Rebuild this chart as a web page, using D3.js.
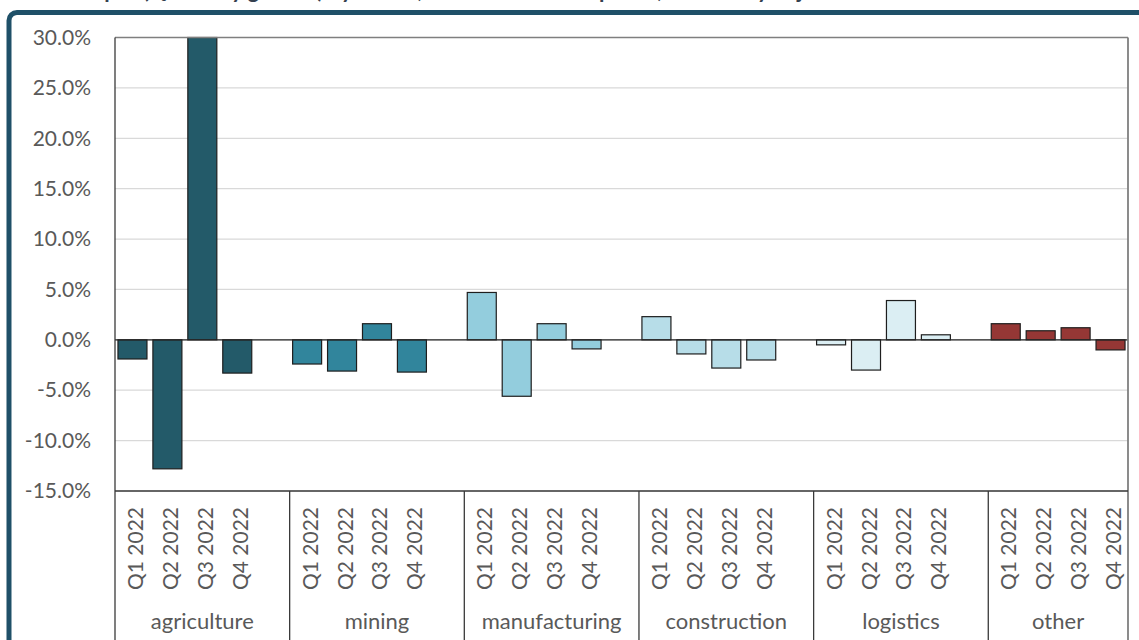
<!DOCTYPE html>
<html>
<head>
<meta charset="utf-8">
<script src="https://cdn.jsdelivr.net/npm/d3@7"></script>
<style>
	body { margin: 0; background: #fff; }
	svg text { font-family: Lato, "Open Sans", sans-serif; }
</style>
</head>
<body>
<div id="chart"></div>
<script>
// Quarterly growth by sector
///

const title = "Output (Quarterly growth) by sector, at constant 2015 prices, seasonally adjusted";
const sectors = ["agriculture", "mining", "manufacturing", "construction", "logistics", "other"];
const quarters = ["Q1 2022", "Q2 2022", "Q3 2022", "Q4 2022"];
const sectorColors = ["#235a69", "#31859c", "#93cddd", "#b7dde8", "#dbeef3", "#953735"];

const agriculture = [-1.9, -12.8, 30.0, -3.3];
const mining = [-2.4, -3.1, 1.6, -3.2];
const manufacturing = [4.7, -5.6, 1.6, -0.9];
const construction = [2.3, -1.4, -2.8, -2.0];
const logistics = [-0.5, -3.0, 3.9, 0.5];
const other = [1.6, 0.9, 1.2, -1.0];

const yTicks = [-15, -10, -5, 0, 5, 10, 15, 20, 25, 30];

const series = [agriculture, mining, manufacturing, construction, logistics, other];

const w = 1139, h = 640;
const plotLeft = 115, plotRight = 1128, plotTop = 37.5, plotBottom = 491;

// one slot per quarter, with an empty slot between sectors
let slots = [];
let bars = [];
sectors.forEach(function(s, i) {
	quarters.forEach(function(q, j) {
		slots.push(s + '|' + q);
		bars.push({ sector: s, quarter: q, key: s + '|' + q, value: series[i][j], color: sectorColors[i] });
	});
	if (i < sectors.length - 1)
		slots.push(s + '|blank');
});

const x = d3.scaleBand().domain(slots).range([plotLeft, plotRight]).paddingInner(0.17).paddingOuter(0.085);
const y = d3.scaleLinear().domain([-15, 30]).range([plotBottom, plotTop]);

let svg = d3.select("#chart").append('svg')
	.attr("width", w)
	.attr("height", h)
	.attr("viewBox", "0 0 " + w + " " + h);

svg.append('rect').attr('width', w).attr('height', h).attr('fill', '#fff');

// cut-off title
svg.append('text')
	.attr('x', 66).attr('y', -2.5)
	.attr('font-size', 22).attr('font-weight', 700)
	.attr('fill', '#34404f')
	.text(title);

// outer frame
svg.append('rect')
	.attr('x', 9).attr('y', 12.5)
	.attr('width', 1300).attr('height', 800)
	.attr('rx', 8)
	.attr('fill', 'none')
	.attr('stroke', '#1f5068')
	.attr('stroke-width', 5);

// gridlines
svg.append('g').selectAll('line')
	.data(yTicks)
	.enter()
	.append('line')
	.attr('x1', plotLeft).attr('x2', plotRight)
	.attr('y1', d => y(d)).attr('y2', d => y(d))
	.attr('stroke', '#d9d9d9')
	.attr('stroke-width', 1.2);

// y axis labels
let yAxis = svg.append('g')
	.attr('transform', 'translate(' + plotLeft + ',0)')
	.call(d3.axisLeft(y).tickValues(yTicks).tickSize(0).tickPadding(24).tickFormat(d => d.toFixed(1) + '%'));
yAxis.select('.domain').remove();
yAxis.selectAll('text')
	.attr('font-size', 21)
	.attr('font-family', 'Lato, sans-serif')
	.attr('fill', '#595959');

// bars
svg.append('g').selectAll('rect')
	.data(bars)
	.enter()
	.append('rect')
	.attr('x', d => x(d.key))
	.attr('width', x.bandwidth())
	.attr('y', d => y(Math.max(0, d.value)))
	.attr('height', d => Math.abs(y(d.value) - y(0)))
	.attr('fill', d => d.color)
	.attr('stroke', '#1e1e1e')
	.attr('stroke-width', 1.2);

// zero line
svg.append('line')
	.attr('x1', plotLeft).attr('x2', plotRight)
	.attr('y1', y(0)).attr('y2', y(0))
	.attr('stroke', '#262626')
	.attr('stroke-width', 1.3);

// plot frame
svg.append('line').attr('x1', plotLeft).attr('x2', plotRight).attr('y1', plotTop).attr('y2', plotTop)
	.attr('stroke', '#7f7f7f').attr('stroke-width', 1.5);
svg.append('line').attr('x1', plotRight).attr('x2', plotRight).attr('y1', plotTop).attr('y2', h)
	.attr('stroke', '#7f7f7f').attr('stroke-width', 1.8);
svg.append('line').attr('x1', plotLeft).attr('x2', plotLeft).attr('y1', plotTop).attr('y2', h)
	.attr('stroke', '#3a3a3a').attr('stroke-width', 1.3);
svg.append('line').attr('x1', plotLeft).attr('x2', plotRight).attr('y1', plotBottom).attr('y2', plotBottom)
	.attr('stroke', '#3a3a3a').attr('stroke-width', 1.3);

// sector separators
const half = x.step() * x.paddingInner() / 2;
let bounds = sectors.slice(1).map(s => x(s + '|' + quarters[0]) - half);
svg.append('g').selectAll('line')
	.data(bounds)
	.enter()
	.append('line')
	.attr('x1', d => d).attr('x2', d => d)
	.attr('y1', plotBottom).attr('y2', h)
	.attr('stroke', '#3a3a3a')
	.attr('stroke-width', 1.3);

// quarter labels
svg.append('g').selectAll('text')
	.data(bars)
	.enter()
	.append('text')
	.attr('transform', d => 'translate(' + (x(d.key) + x.bandwidth() / 2) + ',507) rotate(-90)')
	.attr('text-anchor', 'end')
	.attr('dy', '0.5em')
	.attr('font-size', 21)
	.attr('fill', '#595959')
	.text(d => d.quarter);

// sector labels
svg.append('g').selectAll('text')
	.data(sectors)
	.enter()
	.append('text')
	.attr('x', function(s) {
		let a = x(s + '|' + quarters[0]) - half;
		let b = (s == sectors[sectors.length - 1]) ? plotRight : x(s + '|blank') + x.bandwidth() + half;
		return (a + b) / 2;
	})
	.attr('y', 629)
	.attr('text-anchor', 'middle')
	.attr('font-size', 22)
	.attr('fill', '#595959')
	.text(d => d);
</script>
</body>
</html>
